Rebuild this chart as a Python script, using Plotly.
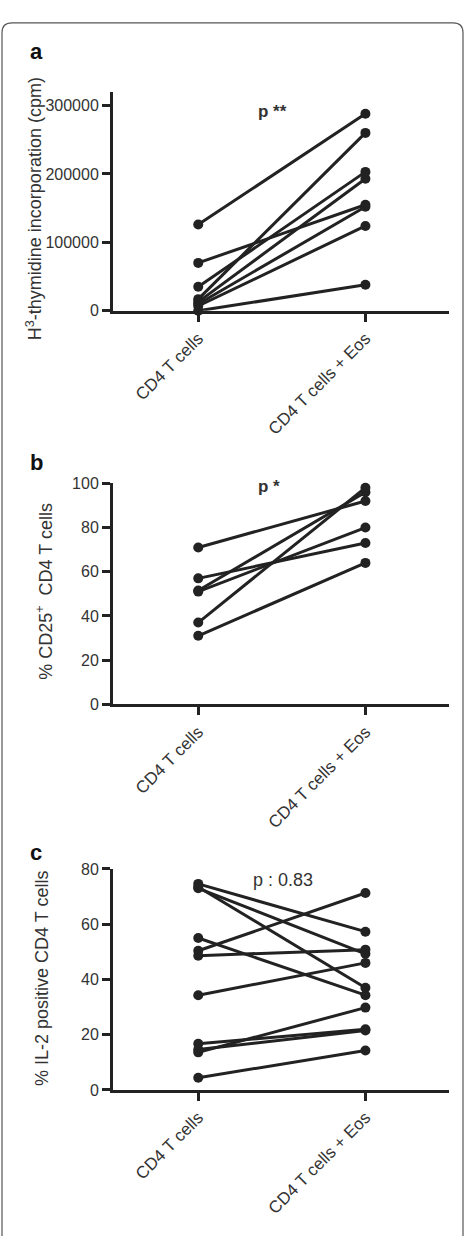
import plotly.graph_objects as go

W, H = 465, 1236

categories = ["CD4 T cells", "CD4 T cells + Eos"]

# Panel a: H3-thymidine incorporation (cpm)
a_before = [126000, 70000, 35000, 17000, 13000, 10000, 7000, 0]
a_after = [288000, 155000, 203000, 260000, 193000, 152000, 124000, 38000]
a_ticks = [0, 100000, 200000, 300000]

# Panel b: % CD25+ CD4 T cells
b_before = [71, 57, 51, 51.5, 37, 31]
b_after = [92, 73, 80, 96, 98, 64]
b_ticks = [0, 20, 40, 60, 80, 100]

# Panel c: % IL-2 positive CD4 T cells
c_before = [74.6, 73, 73.5, 55, 50.4, 48.6, 34.3, 16.7, 14.6, 13.6, 4.4]
c_after = [57.3, 49.3, 37, 34.3, 71.3, 50.8, 46, 22, 21.5, 29.8, 14.3]
c_ticks = [0, 20, 40, 60, 80]

INK = "#222222"
TXT = "#333333"
FONT = "Liberation Sans, Arial, Helvetica, sans-serif"


def px_x(p):
    return p / W


def px_y(p):
    return 1 - p / H


fig = go.Figure()

panels = [
    ("", a_before, a_after, a_ticks, [0, 320000], (85, 307)),
    ("2", b_before, b_after, b_ticks, [0, 100], (482, 706)),
    ("3", c_before, c_after, c_ticks, [0, 80], (873, 1097)),
]

xpos = [0, 1]
for suffix, before, after, ticks, yr, (top, bot) in panels:
    for b0, a0 in zip(before, after):
        fig.add_trace(go.Scatter(
            x=xpos, y=[b0, a0], mode="lines+markers",
            line=dict(color=INK, width=3),
            marker=dict(color=INK, size=10),
            xaxis="x" + suffix, yaxis="y" + suffix,
            showlegend=False, cliponaxis=False, hoverinfo="skip",
        ))
    xname = "xaxis" + suffix
    yname = "yaxis" + suffix
    fig.layout[xname] = dict(
        domain=[px_x(113), px_x(449)], range=[-0.51, 1.50],
        anchor="y" + suffix, tickvals=xpos, ticktext=categories,
        tickangle=-45, showline=True, linecolor=INK, linewidth=3,
        ticks="outside", ticklen=8, tickwidth=3, tickcolor=INK,
        showgrid=False, zeroline=False,
        tickfont=dict(family=FONT, size=17, color=TXT),
    )
    fig.layout[yname] = dict(
        domain=[px_y(bot), px_y(top)], range=yr,
        anchor="x" + suffix, tickvals=ticks, ticktext=[str(t) for t in ticks],
        showline=True, linecolor=INK, linewidth=3,
        ticks="outside", ticklen=8, tickwidth=3, tickcolor=INK,
        showgrid=False, zeroline=False,
        tickfont=dict(family=FONT, size=16, color=TXT),
    )

annotations = []
# panel letters
for letter, cx, cy in [("a", 36, 44), ("b", 36.5, 461), ("c", 35.5, 856)]:
    annotations.append(dict(
        text="<b>%s</b>" % letter, x=px_x(cx), y=px_y(cy), xref="paper", yref="paper",
        xanchor="center", yanchor="middle", showarrow=False,
        font=dict(family=FONT, size=22, color="#111111"),
    ))
# y titles
for title, cx, cy in [
    ("H<sup>3</sup>-thymidine incorporation (cpm)", 34.5, 203.5),
    ("% CD25<sup>+</sup>  CD4 T cells", 44.5, 591.5),
    ("% IL-2 positive CD4 T cells", 42.5, 984),
]:
    annotations.append(dict(
        text=title, x=px_x(cx), y=px_y(cy), xref="paper", yref="paper",
        xanchor="center", yanchor="middle", textangle=-90, showarrow=False,
        font=dict(family=FONT, size=18, color=TXT),
    ))
# p-values
for text, cx, cy, size in [
    ("<b>p **</b>", 272.5, 105, 17),
    ("<b>p *</b>", 269, 485, 17),
    ("p : 0.83", 282.5, 884, 18),
]:
    annotations.append(dict(
        text=text, x=px_x(cx), y=px_y(cy), xref="paper", yref="paper",
        xanchor="center", yanchor="middle", showarrow=False,
        font=dict(family=FONT, size=size, color=TXT),
    ))

# rounded frame (open at bottom, cut by page)
r = 10
L, T, R = 2, 15, 463
path = (
    f"M {px_x(L)},{px_y(H + 20)} L {px_x(L)},{px_y(T + r)} "
    f"Q {px_x(L)},{px_y(T)} {px_x(L + r)},{px_y(T)} "
    f"L {px_x(R - r)},{px_y(T)} "
    f"Q {px_x(R)},{px_y(T)} {px_x(R)},{px_y(T + r)} "
    f"L {px_x(R)},{px_y(H + 20)}"
)
fig.add_shape(type="path", path=path, xref="paper", yref="paper",
              line=dict(color="#555555", width=1.2))

fig.update_layout(
    width=W, height=H, margin=dict(l=0, r=0, t=0, b=0),
    paper_bgcolor="white", plot_bgcolor="white",
    annotations=annotations,
    font=dict(family=FONT, color=TXT),
)

fig.write_html("out.html")
